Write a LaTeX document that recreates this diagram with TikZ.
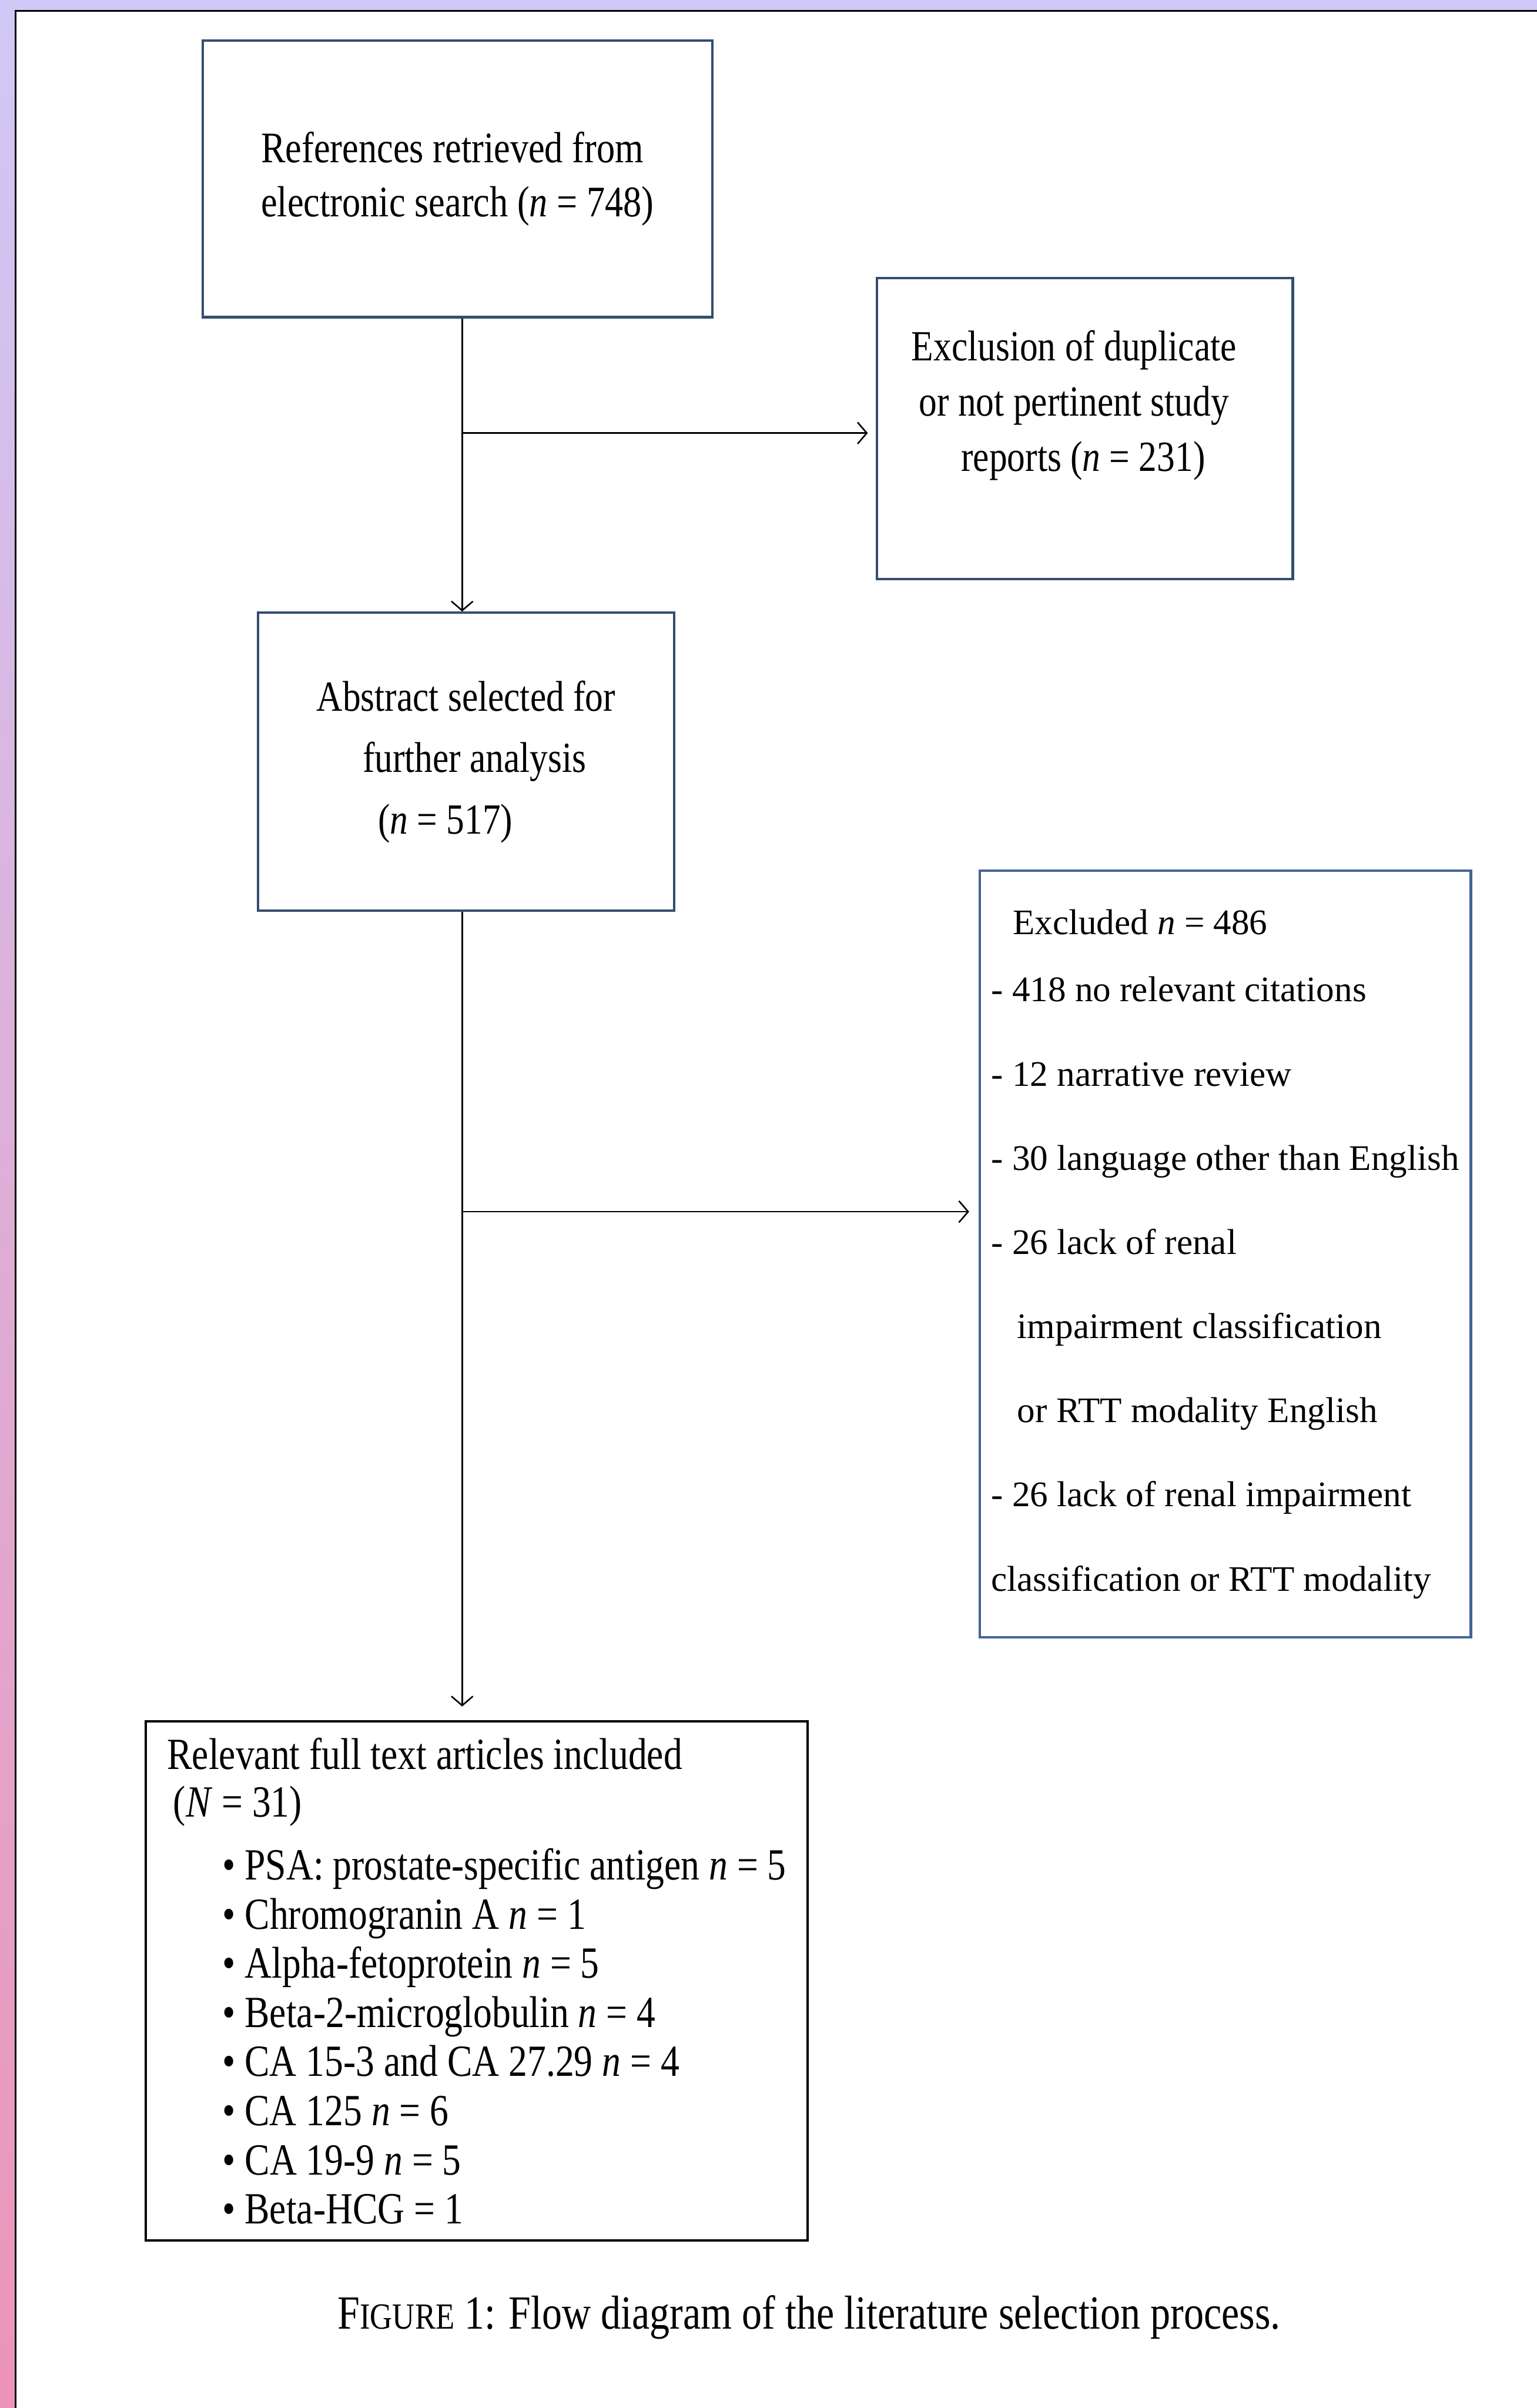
\documentclass[tikz,border=0pt]{standalone}
\usepackage{fontspec}
\setmainfont[FakeStretch=0.84]{Liberation Serif}
\newfontfamily\widefont{Liberation Serif}
\usetikzlibrary{arrows.meta}

\definecolor{boxblue}{RGB}{52,78,108}
\definecolor{exclblue}{RGB}{68,100,150}
\definecolor{topshade}{RGB}{208,200,246}
\definecolor{bottomshade}{RGB}{236,148,184}

\begin{document}
\begin{tikzpicture}[x=0.5pt, y=-0.5pt,
    stage/.style={draw=boxblue, line width=0.8pt, inner sep=0pt},
    arr/.style={-{Straight Barb[length=3pt,width=7pt]}, line width=0.5pt}]
                \useasboundingbox (0,0) rectangle (1001,1568);
                \shade[top color=topshade, bottom color=bottomshade] (0,0) rectangle (1001,1568);
                \fill[white] (10,7) rectangle (1001,1568);
                \draw[line width=0.6pt] (10,1568) -- (10,7) -- (1001,7);

                % Boxes
                \node[stage, minimum width=166pt, minimum height=90pt, align=left,
                    font=\fontsize{14.2}{17.5}\selectfont] (refs) at (298,116.5)
                    {References retrieved from\\electronic search (\textit{n} = 748)};
                \node[stage, minimum width=135.5pt, minimum height=98pt] (dup) at (706.5,279) {};
                \node[align=center, font=\fontsize{14}{18}\selectfont] (dup-text)
                    at ([xshift=-3.5pt, yshift=7.5pt]dup.center)
                    {Exclusion of duplicate\\or not pertinent study\\\hspace*{6pt}reports (\textit{n} = 231)};
                \node[stage, minimum width=135.5pt, minimum height=97pt, align=left,
                    font=\fontsize{14}{20}\selectfont] (abs) at (303.5,496)
                    {Abstract selected for\\\hspace*{15pt}further analysis\\\hspace*{20pt}(\textit{n} = 517)};
                \node[stage, draw=exclblue, minimum width=160pt, minimum height=249.5pt, align=left,
                    font=\widefont\fontsize{11.7}{27.4}\selectfont] (excl) at (798,816.5)
                    {\hspace*{7pt}Excluded \textit{n} = 486\\[-5.4pt]
                     - 418 no relevant citations\\
                     - 12 narrative review\\
                     - 30 language other than English\\
                     - 26 lack of renal\\
                     \hspace*{8.5pt}impairment classification\\
                     \hspace*{8.5pt}or RTT modality English\\
                     - 26 lack of renal impairment\\
                     classification or RTT modality};
                \node[stage, draw=black, minimum width=215.5pt, minimum height=169pt, align=left,
                    font=\fontsize{14.5}{16}\selectfont] (incl) at (310.5,1290)
                    {Relevant full text articles included\\[-0.5pt]
                     \hspace*{2pt}(\textit{N} = 31)\\[4.5pt]
                     \hspace*{18pt}\textbullet{} PSA: prostate-specific antigen \textit{n} = 5\\
                     \hspace*{18pt}\textbullet{} Chromogranin A \textit{n} = 1\\
                     \hspace*{18pt}\textbullet{} Alpha-fetoprotein \textit{n} = 5\\
                     \hspace*{18pt}\textbullet{} Beta-2-microglobulin \textit{n} = 4\\
                     \hspace*{18pt}\textbullet{} CA 15-3 and CA 27.29 \textit{n} = 4\\
                     \hspace*{18pt}\textbullet{} CA 125 \textit{n} = 6\\
                     \hspace*{18pt}\textbullet{} CA 19-9 \textit{n} = 5\\
                     \hspace*{18pt}\textbullet{} Beta-HCG = 1};

                \node[font=\fontsize{15.5}{18}\selectfont] (caption) at (527,1509)
                    {F{\fontsize{12}{14}\selectfont IGURE} 1: Flow diagram of the literature selection process.};

                % Connectors
                \coordinate (spine) at (301,0);
                \coordinate (fork) at (301,789);
                \draw[arr] (refs.south -| spine) -- (abs.north -| spine);
                \draw[arr, shorten >=2.5pt] ([yshift=-1.5pt]dup.west -| spine) -- ([yshift=-1.5pt]dup.west);
                \draw[arr, shorten >=4.5pt] (abs.south -| spine) -- (incl.north -| spine);
                \draw[arr, shorten >=3pt] (fork) -- (fork -| excl.west);
            \end{tikzpicture}
\end{document}
